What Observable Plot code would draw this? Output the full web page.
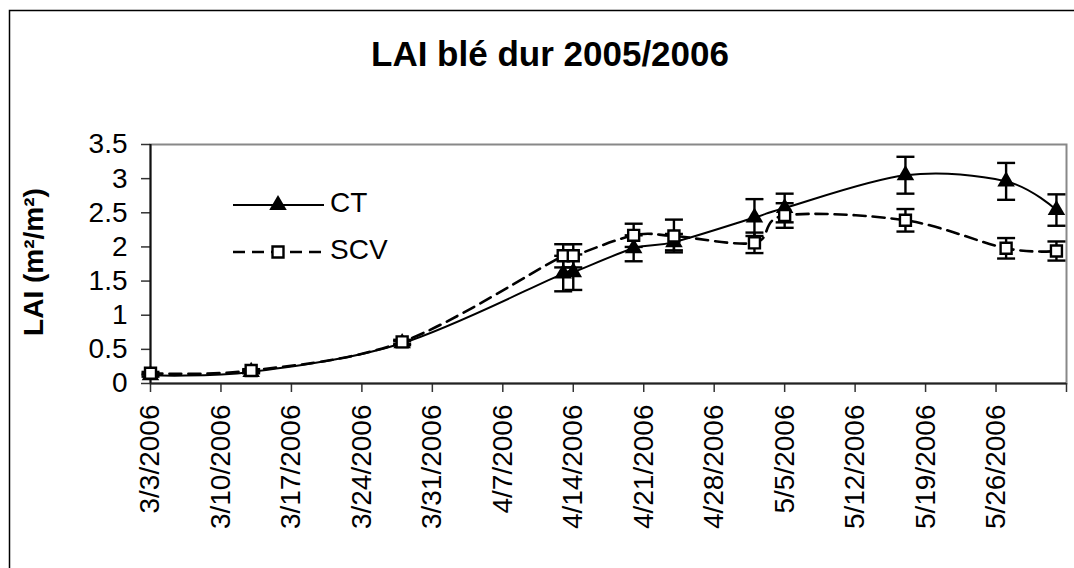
<!DOCTYPE html>
<html><head><meta charset="utf-8">
<script src="https://cdn.jsdelivr.net/npm/d3@7"></script>
<script src="https://cdn.jsdelivr.net/npm/@observablehq/plot@0.6"></script>
<style>
html,body{margin:0;padding:0;background:#fff;}
#wrap{position:relative;width:1074px;height:568px;overflow:hidden;background:#fff;}
#wrap svg{position:absolute;left:0;top:0;}
</style>
</head><body>
<div id="wrap"></div>
<script>
// ---- data ----
const sampleDates = ["2006-03-03","2006-03-13","2006-03-28","2006-04-13","2006-04-14","2006-04-20","2006-04-24","2006-05-02","2006-05-05","2006-05-17","2006-05-27","2006-06-01"];
const ctValues  = [0.12,0.17,0.59,1.61,1.63,1.98,2.07,2.43,2.57,3.05,2.96,2.54];
const ctErrors  = [0.02,0.02,0.03,0.26,0.26,0.19,0.12,0.27,0.21,0.27,0.27,0.23];
const scvValues = [0.15,0.19,0.61,1.87,1.87,2.17,2.16,2.06,2.46,2.39,1.98,1.94];
const scvErrors = [0.02,0.02,0.03,0.17,0.17,0.17,0.24,0.15,0.18,0.165,0.15,0.14];
const xTickDates = ["2006-03-03","2006-03-10","2006-03-17","2006-03-24","2006-03-31","2006-04-07","2006-04-14","2006-04-21","2006-04-28","2006-05-05","2006-05-12","2006-05-19","2006-05-26","2006-06-02"];
const xDomain = ["2006-03-03","2006-06-02"];
const yTicks = [0,0.5,1,1.5,2,2.5,3,3.5];
const seriesNames = ["CT","SCV"];
const titleText = "LAI blé dur 2005/2006";
const yLabelText = "LAI (m²/m²)";

const FONT = '"Liberation Sans", Arial, sans-serif';
const toDate = s => new Date(s + "T00:00:00Z");
const ct  = sampleDates.map((d,i)=>({date:toDate(d), v:ctValues[i],  e:ctErrors[i]}));
const scv = sampleDates.map((d,i)=>({date:toDate(d), v:scvValues[i], e:scvErrors[i]}));
const ticks = xTickDates.map(toDate);
const lastTick = +ticks[ticks.length-1];
const fmt = d3.utcFormat("%-m/%-d/%Y");

const cap = {draw(context, size){ const w = Math.sqrt(size/Math.PI); context.moveTo(-w,0); context.lineTo(w,0); }};
const TRI_R = 6.5, SQ_R = 6.2;

const chart = Plot.plot({
  width:1074, height:568,
  marginLeft:150, marginRight:8, marginTop:144, marginBottom:185,
  x:{type:"utc", domain:xDomain.map(toDate)},
  y:{domain:[0,3.5]},
  style:{fontFamily:FONT, fontSize:"28px", color:"#000", background:"transparent", overflow:"visible"},
  marks:[
    Plot.frame({stroke:"#888", strokeWidth:2}),
    Plot.axisY({ticks:yTicks, tickSize:9, tickPadding:14, fontSize:28, tickFormat:d=>String(d), label:null, strokeWidth:1.5, stroke:"#333"}),
    Plot.axisX({ticks:ticks, tickSize:9, tickPadding:12, tickRotate:-90, fontSize:28, label:null, strokeWidth:1.5, stroke:"#333",
      tickFormat:d => (+d === lastTick ? "" : fmt(d))}),
    Plot.ruleY([0], {stroke:"#222", strokeWidth:2}),
    Plot.ruleX([toDate(xDomain[0])], {stroke:"#111", strokeWidth:2}),
    // CT
    Plot.line(ct, {x:"date", y:"v", curve:"cardinal", stroke:"#000", strokeWidth:2}),
    Plot.ruleX(ct, {x:"date", y1:d=>d.v-d.e, y2:d=>d.v+d.e, stroke:"#000", strokeWidth:2.4}),
    Plot.dot(ct, {x:"date", y:d=>d.v-d.e, symbol:cap, r:9, fill:"none", stroke:"#000", strokeWidth:2.4}),
    Plot.dot(ct, {x:"date", y:d=>d.v+d.e, symbol:cap, r:9, fill:"none", stroke:"#000", strokeWidth:2.4}),
    Plot.dot(ct, {x:"date", y:"v", symbol:"triangle", r:TRI_R, fill:"#000", stroke:"none"}),
    // SCV
    Plot.line(scv, {x:"date", y:"v", curve:"cardinal", stroke:"#000", strokeWidth:2.6, strokeDasharray:"12,7"}),
    Plot.ruleX(scv, {x:"date", y1:d=>d.v-d.e, y2:d=>d.v+d.e, stroke:"#000", strokeWidth:2.4}),
    Plot.dot(scv, {x:"date", y:d=>d.v-d.e, symbol:cap, r:9, fill:"none", stroke:"#000", strokeWidth:2.4}),
    Plot.dot(scv, {x:"date", y:d=>d.v+d.e, symbol:cap, r:9, fill:"none", stroke:"#000", strokeWidth:2.4}),
    Plot.dot(scv, {x:"date", y:"v", symbol:"square", r:SQ_R, fill:"#fff", stroke:"#000", strokeWidth:2.4})
  ]
});
const wrap = document.getElementById("wrap");
wrap.appendChild(chart);

// ---- overlay: border, title, y label, legend ----
const ov = d3.select(wrap).append("svg")
  .attr("width",1074).attr("height",568)
  .style("font-family",FONT).style("pointer-events","none");
ov.append("rect").attr("x",9.5).attr("y",10.5).attr("width",1200).attr("height",700)
  .attr("fill","none").attr("stroke","#000").attr("stroke-width",1.5);
ov.append("text").attr("x",550).attr("y",66).attr("text-anchor","middle")
  .attr("font-weight","bold").attr("font-size",35).text(titleText);
ov.append("text").attr("transform","translate(43,262) rotate(-90)").attr("text-anchor","middle")
  .attr("font-weight","bold").attr("font-size",28).text(yLabelText);

const leg = [{name:seriesNames[0], y:205, dash:null, sym:d3.symbolTriangle, fill:"#000", size:Math.PI*TRI_R*TRI_R, sw:2},
             {name:seriesNames[1], y:252, dash:"12,7", sym:d3.symbolSquare, fill:"#fff", size:Math.PI*SQ_R*SQ_R, sw:2.6}];
for (const l of leg) {
  const ln = ov.append("line").attr("x1",233).attr("x2",324).attr("y1",l.y).attr("y2",l.y)
    .attr("stroke","#000").attr("stroke-width",l.sw);
  if (l.dash) ln.attr("stroke-dasharray",l.dash);
  ov.append("path").attr("d",d3.symbol(l.sym,l.size)()).attr("transform",`translate(278,${l.y})`)
    .attr("fill",l.fill).attr("stroke",l.fill==="#fff"?"#000":"none").attr("stroke-width",2.4);
  ov.append("text").attr("x",330).attr("y",l.y+7).attr("font-size",28).text(l.name);
}
</script>
</body></html>
